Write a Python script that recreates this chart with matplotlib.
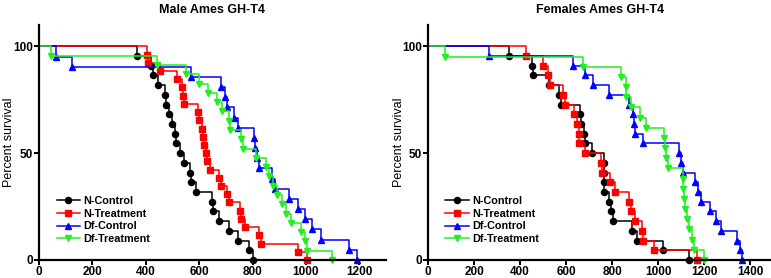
"""Kaplan-Meier survival curves, Ames GH-T4, males and females"""

import matplotlib
matplotlib.use("Agg")
import matplotlib.pyplot as plt
import numpy as np

plt.rcParams['font.family'] = ['Liberation Sans', 'DejaVu Sans']

# series names
groups = ["N-Control", "N-Treatment", "Df-Control", "Df-Treatment"]

# death times (days)
male_n_control = [369, 419, 427, 444, 472, 477, 488, 497, 510, 514, 529, 544,
                  566, 571, 587, 647, 651, 675, 712, 744, 787, 800]
male_n_treatment = [406, 410, 452, 516, 534, 540, 544, 594, 600, 609, 615, 619,
                    624, 631, 641, 675, 681, 704, 710, 754, 756, 772, 825, 831,
                    969, 1005]
male_df_control = [62, 122, 571, 681, 696, 706, 731, 746, 804, 809, 815, 823,
                   874, 884, 935, 972, 998, 1022, 1056, 1162, 1190]
male_df_treatment = [44, 443, 550, 598, 632, 666, 686, 713, 717, 757, 763, 813,
                     850, 860, 875, 893, 912, 927, 943, 980, 996, 1005, 1098]

female_n_control = [351, 451, 455, 525, 567, 578, 661, 665, 677, 684, 712, 765,
                    765, 765, 765, 788, 793, 803, 887, 909, 1022, 1133]
female_n_treatment = [424, 499, 523, 532, 587, 597, 636, 648, 654, 658, 681, 752,
                      757, 791, 813, 872, 880, 901, 930, 934, 981, 1167]
female_df_control = [267, 629, 680, 716, 788, 872, 891, 894, 901, 933, 1090, 1097,
                     1109, 1158, 1172, 1184, 1223, 1249, 1271, 1341, 1354, 1365]
female_df_treatment = [72, 672, 839, 858, 862, 883, 923, 945, 1025, 1028, 1035,
                       1044, 1107, 1109, 1112, 1117, 1125, 1133, 1145, 1157, 1200]

colors = ["black", "#ff0000", "#0000ff", "#22ee22"]
markers = ["o", "s", "^", "v"]


def km(times):
    # no censoring: survival drops by 1/n at every death
    n = len(times)
    x = [0] + list(times)
    y = [100.0] + list(100.0 * (1 - np.arange(1, n + 1) / n))
    return x, y


def panel(ax, data, xmax, xticks, title, title_x):
    for times, name, c, m in zip(data, groups, colors, markers):
        x, y = km(times)
        ax.plot(x, y, drawstyle='steps-post', color=c, lw=1.1, marker=m,
                markersize=4.4, markevery=slice(1, None), label=name,
                clip_on=False)
    ax.set_xlim(0, xmax)
    ax.set_ylim(0, 110)
    ax.set_xticks(xticks)
    ax.set_yticks([0, 50, 100])
    for s in ['top', 'right']:
        ax.spines[s].set_visible(False)
    for s in ['left', 'bottom']:
        ax.spines[s].set_linewidth(1.6)
    ax.tick_params(direction='out', length=3.5, width=1.4, labelsize=8.5, pad=1)
    for lab in ax.get_xticklabels() + ax.get_yticklabels():
        lab.set_fontweight('bold')
    ax.set_ylabel("Percent survival", fontsize=9)
    ax.yaxis.set_label_coords(-0.068, 0.5)
    leg = ax.legend(loc='lower left', bbox_to_anchor=(0.035, 0.045), frameon=False,
                    fontsize=7.8, handlelength=2.2, handletextpad=0.3,
                    labelspacing=0.25, borderpad=0)
    for t in leg.get_texts():
        t.set_fontweight('bold')
    fig.text(title_x, 1 - 10 / 278, title, ha='center', va='center',
             fontsize=9, fontweight='bold')


fig = plt.figure(figsize=(7.71, 2.78), dpi=100)
ax1 = fig.add_axes([39 / 771, 18 / 278, 347 / 771, 235 / 278])
ax2 = fig.add_axes([428 / 771, 18 / 278, 343 / 771, 235 / 278])

panel(ax1, [male_n_control, male_n_treatment, male_df_control, male_df_treatment],
      1300, range(0, 1201, 200), "Male Ames GH-T4", 212 / 771)
panel(ax2, [female_n_control, female_n_treatment, female_df_control, female_df_treatment],
      1490, range(0, 1401, 200), "Females Ames GH-T4", 600 / 771)

fig.savefig("out.png", dpi=100)
